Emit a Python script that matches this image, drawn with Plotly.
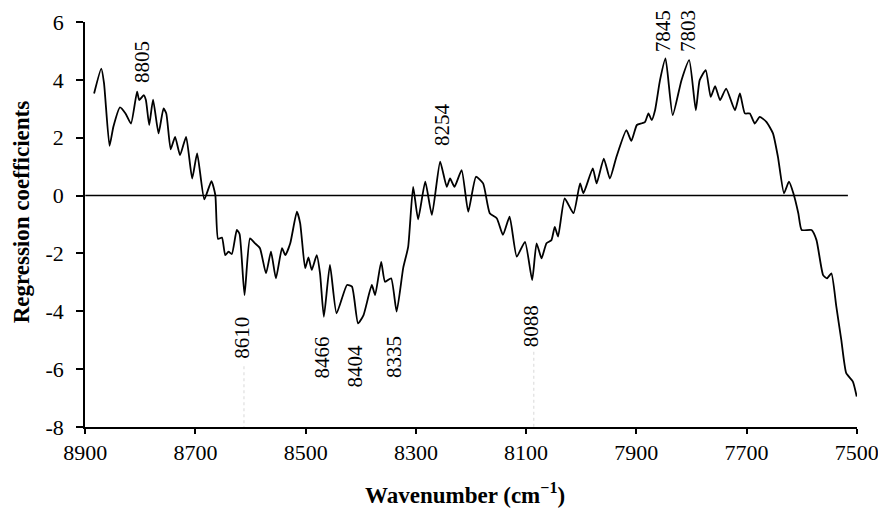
import plotly.graph_objects as go

# Wavenumber (cm-1) and regression coefficient
wavenumber = [8884, 8871, 8866, 8856, 8849, 8837, 8827, 8817, 8806, 8802,
              8794, 8790, 8784, 8777, 8767, 8758, 8753, 8745, 8737, 8728,
              8717, 8706, 8697, 8684, 8671, 8664, 8659, 8652, 8646, 8640,
              8634, 8625, 8620, 8611, 8601, 8592, 8583, 8572, 8563, 8554,
              8543, 8537, 8528, 8516, 8510, 8501, 8495, 8489, 8480, 8474,
              8467, 8456, 8444, 8425, 8416, 8405, 8395, 8380, 8374, 8363,
              8356, 8345, 8335, 8323, 8314, 8305, 8296, 8283, 8271, 8256,
              8244, 8238, 8230, 8217, 8205, 8191, 8178, 8166, 8153, 8142,
              8130, 8117, 8102, 8089, 8081, 8072, 8063, 8054, 8048, 8042,
              8030, 8014, 8002, 7996, 7979, 7972, 7959, 7948, 7936, 7918,
              7909, 7899, 7890, 7884, 7878, 7872, 7866, 7857, 7847, 7834,
              7818, 7804, 7792, 7785, 7774, 7765, 7757, 7748, 7737, 7721,
              7712, 7703, 7694, 7685, 7676, 7664, 7652, 7643, 7632, 7623,
              7615, 7606, 7600, 7582, 7573, 7561, 7554, 7546, 7537, 7528,
              7519, 7507, 7500]
coefficient = [3.53, 4.39, 3.89, 1.72, 2.38, 3.05, 2.84, 2.49, 3.59, 3.30,
               3.47, 3.30, 2.44, 3.32, 2.15, 3.01, 2.84, 1.60, 2.03, 1.40,
               2.03, 0.59, 1.46, -0.13, 0.50, 0.02, -1.50, -1.45, -2.06, -1.94,
               -2.02, -1.19, -1.33, -3.44, -1.48, -1.65, -1.82, -2.69, -1.94, -2.86,
               -1.82, -2.06, -1.65, -0.56, -0.96, -2.51, -2.14, -2.57, -2.06, -2.69,
               -4.19, -2.40, -4.07, -3.09, -3.15, -4.42, -4.13, -3.09, -3.44, -2.29,
               -2.98, -2.86, -4.01, -2.50, -1.77, 0.30, -0.82, 0.48, -0.67, 1.17,
               0.30, 0.59, 0.30, 0.88, -0.56, 0.65, 0.42, -0.61, -0.79, -1.36,
               -0.73, -2.11, -1.60, -2.92, -1.65, -2.17, -1.65, -1.54, -1.08, -1.42,
               -0.10, -0.61, 0.42, 0.08, 0.94, 0.42, 1.28, 0.59, 1.34, 2.26,
               1.89, 2.44, 2.50, 2.55, 2.84, 2.61, 2.95, 3.99, 4.74, 2.78,
               3.99, 4.68, 2.95, 3.99, 4.34, 3.41, 3.78, 3.30, 3.70, 2.95,
               3.53, 2.84, 2.84, 2.49, 2.72, 2.55, 2.15, 1.34, 0.08, 0.48,
               0.08, -0.61, -1.19, -1.19, -1.54, -2.75, -2.86, -2.69, -3.84, -4.99,
               -6.14, -6.43, -6.95]

# Peak labels
peak_labels = ["8805", "8610", "8466", "8404", "8335", "8254", "8088", "7845", "7803"]
label_x = [8797, 8616, 8471, 8410, 8341, 8253, 8092, 7851, 7806]
label_y = [4.62, -4.92, -5.61, -5.90, -5.57, 2.47, -4.53, 5.69, 5.69]

x_ticks = [8900, 8700, 8500, 8300, 8100, 7900, 7700, 7500]
y_ticks = [-8, -6, -4, -2, 0, 2, 4, 6]
y_tick_text = ["-8", "-6", "-4", "-2", "0", "2", "4", "6"]

FONT = "Liberation Serif"

fig = go.Figure()
fig.add_trace(go.Scatter(
    x=wavenumber, y=coefficient, mode="lines",
    line=dict(color="black", width=1.8, shape="spline", smoothing=0.5),
    hoverinfo="x+y",
))

# zero line
fig.add_shape(type="line", xref="x", yref="y", x0=8900, x1=7516, y0=0, y1=0,
              line=dict(color="black", width=1.5), layer="below")

# faint dotted leader lines
for lx, ly in [(8612, -5.9), (8086, -5.4)]:
    fig.add_shape(type="line", xref="x", yref="y", x0=lx, x1=lx, y0=ly, y1=-8,
                  line=dict(color="#d8d8d8", width=1, dash="dot"), layer="below")

for t, x, y in zip(peak_labels, label_x, label_y):
    fig.add_annotation(x=x, y=y, xref="x", yref="y", text=t, showarrow=False,
                       textangle=-90, font=dict(family=FONT, size=21, color="black"))

# axis titles as annotations (fixed placement)
fig.add_annotation(x=0.492, y=0, xref="paper", yref="paper", yanchor="middle",
                   yshift=-66, showarrow=False,
                   text="<b>Wavenumber (cm<sup>−1</sup>)</b>",
                   font=dict(family=FONT, size=23, color="black"))
fig.add_annotation(x=0, y=0.53, xref="paper", yref="paper", xanchor="center",
                   yanchor="middle", xshift=-64, showarrow=False, textangle=-90,
                   text="<b>Regression coefficients</b>",
                   font=dict(family=FONT, size=23, color="black"))

fig.update_layout(
    width=878, height=515,
    margin=dict(l=85, r=21, t=22, b=88),
    plot_bgcolor="white", paper_bgcolor="white",
    showlegend=False,
    font=dict(family=FONT, color="black"),
)
fig.update_xaxes(
    range=[8900.5, 7499.5], autorange=False, automargin=False,
    tickvals=x_ticks, ticktext=[str(v) for v in x_ticks],
    ticklabeloverflow="allow",
    showline=True, linecolor="black", linewidth=1.5,
    ticks="outside", ticklen=5, tickcolor="black", tickwidth=1.5,
    showgrid=False, zeroline=False,
    tickfont=dict(family=FONT, size=22, color="black"),
)
fig.update_yaxes(
    range=[-8, 6], autorange=False, automargin=False,
    tickvals=y_ticks, ticktext=y_tick_text,
    showline=True, linecolor="black", linewidth=1.5,
    ticks="outside", ticklen=7, tickcolor="black", tickwidth=1.5,
    showgrid=False, zeroline=False,
    ticklabelstandoff=8,
    tickfont=dict(family=FONT, size=22, color="black"),
)

fig.write_html(
    "out.html",
    config={"displayModeBar": False},
    post_script=("document.body.style.margin='0';"
                 "document.documentElement.style.overflow='hidden';"
                 "document.body.style.overflow='hidden';"),
)
